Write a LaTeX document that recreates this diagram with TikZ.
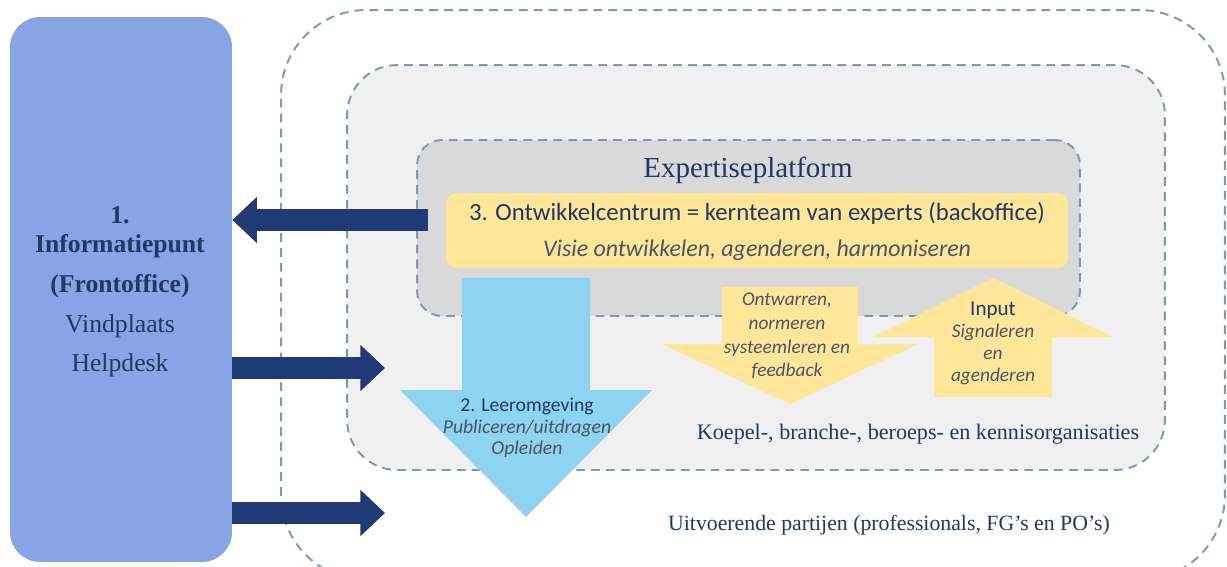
\documentclass[tikz,border=0pt]{standalone}
\usepackage{fontspec}
\setmainfont{Liberation Serif}
\newfontfamily\calibri{Carlito}
\usepackage{tikz}
\usetikzlibrary{arrows.meta,positioning}
\usepackage{xcolor}
\definecolor{dfnavy}{HTML}{1F3864}
\definecolor{dfarrow}{HTML}{203A75}
\definecolor{dffront}{HTML}{87A4E4}
\definecolor{dfdash}{HTML}{8496B0}
\definecolor{dfmid}{HTML}{F0F0F0}
\definecolor{dfinner}{HTML}{D9D9D9}
\definecolor{dfyellow}{HTML}{FFE699}
\definecolor{dfsky}{HTML}{8ED3F0}
\definecolor{dfgray}{HTML}{4A5568}
\tikzstyle{arrow} = [line width=12.5pt,-{Triangle[width=25.5pt,length=14pt]},color=dfarrow]
\tikzstyle{zone} = [draw=dfdash,line width=1.1pt,dash pattern=on 5pt off 3.5pt]
\tikzstyle{lbl} = [text=dfnavy,inner sep=0pt]

\begin{document}
\begin{tikzpicture}[x=0.02cm,y=-0.02cm]
\useasboundingbox[fill=white] (0,0) rectangle (1227,566);

% Frontoffice column
\node[fill=dffront,rounded corners=0.6cm,minimum width=4.44cm,minimum height=10.9cm] (front) at (121,289.5) {};

% Nested zones
\node[zone,fill=white,rounded corners=1.7cm,minimum width=18.88cm,minimum height=11.4cm] (outer) at (753,295) {};
\node[zone,fill=dfmid,rounded corners=1cm,minimum width=16.36cm,minimum height=8.1cm] (middle) at (756,267.5) {};
\node[zone,fill=dfinner,rounded corners=0.5cm,minimum width=13.26cm,minimum height=3.52cm] (inner) at (748.5,228) {};
\node[fill=dfyellow,rounded corners=0.2cm,minimum width=12.44cm,minimum height=1.5cm] (core) at (757,230.5) {};

% Navy arrows to and from the frontoffice
\coordinate (back) at (428,220);
\coordinate (mid) at (385,368);
\coordinate (low) at (385,513);
\draw[arrow] (back) -- (back -| front.east);
\draw[arrow] (mid -| front.east) -- (mid);
\draw[arrow] (low -| front.east) -- (low);

% Block arrows
\fill[dfsky] (462,278) -- (590,278) -- (590,390) -- (652,390) -- (526,517) -- (400,390) -- (462,390) -- cycle;
\fill[dfyellow] (722,287) -- (858,287) -- (858,344) -- (918,344) -- (790,404) -- (662,344) -- (722,344) -- cycle;
\fill[dfyellow] (934,397) -- (1052,397) -- (1052,337) -- (1113,337) -- (993,278) -- (873,337) -- (934,337) -- cycle;

% Labels
\node[lbl,align=center,font=\fontsize{14.6}{22.7}\selectfont] (fronttext) at (120,292)
  {\textbf{1.}\\[-6.3pt]\textbf{Informatiepunt}\\\textbf{(Frontoffice)}\\Vindplaats\\Helpdesk};
\node[lbl,font=\fontsize{16.5}{20}\selectfont] (title) at (748,170) {Expertiseplatform};
\node[lbl,font=\calibri\fontsize{14.1}{17}\selectfont] (coretitle) at (757,213)
  {3. Ontwikkelcentrum = kernteam van experts (backoffice)};
\node[lbl,text=dfgray,font=\calibri\itshape\fontsize{13.6}{16}\selectfont] (coresub) at (757,250)
  {Visie ontwikkelen, agenderen, harmoniseren};
\node[lbl,align=center,font=\calibri\fontsize{11.2}{12.2}\selectfont] (learn) at (527,428)
  {2. Leeromgeving\\\textcolor{dfgray}{\itshape Publiceren/uitdragen}\\\textcolor{dfgray}{\itshape Opleiden}};
\node[lbl,text=dfgray,align=center,font=\calibri\itshape\fontsize{11}{13.6}\selectfont] (feedback) at (787,336)
  {Ontwarren,\\normeren\\systeemleren en\\feedback};
\node[lbl,align=center,font=\calibri\fontsize{11}{12.5}\selectfont] (input) at (993,343)
  {{\fontsize{12}{12.5}\selectfont Input}\\\textcolor{dfgray}{\itshape Signaleren}\\\textcolor{dfgray}{\itshape en}\\\textcolor{dfgray}{\itshape agenderen}};
\node[lbl,font=\fontsize{12.6}{15}\selectfont] (umbrella) at (918,434)
  {Koepel-, branche-, beroeps- en kennisorganisaties};
\node[lbl,font=\fontsize{12.4}{15}\selectfont] (parties) at (889,525)
  {Uitvoerende partijen (professionals, FG’s en PO’s)};
\end{tikzpicture}
\end{document}
